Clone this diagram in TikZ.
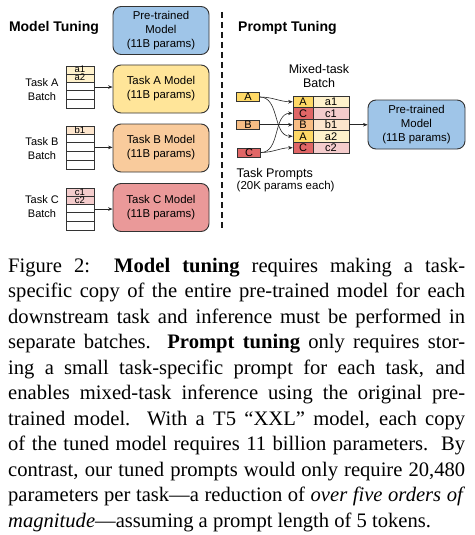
\documentclass[tikz,border=0pt]{standalone}
\usepackage{fontspec}
\setmainfont{Liberation Serif}
\newfontfamily\arialf{Liberation Sans}
\usetikzlibrary{arrows.meta,fit,calc}
\definecolor{mblue}{HTML}{9FC5E8}
\definecolor{myellow}{HTML}{FFE599}
\definecolor{morange}{HTML}{F9CB9C}
\definecolor{mred}{HTML}{EA9999}
\definecolor{lyellow}{HTML}{FFF2CC}
\definecolor{lorange}{HTML}{FCE5CD}
\definecolor{lred}{HTML}{F4CCCC}
\definecolor{dyellow}{HTML}{FFD966}
\definecolor{dorange}{HTML}{F8BD84}
\definecolor{dred}{HTML}{E06666}
\definecolor{edge}{HTML}{333333}
\begin{document}
\begin{tikzpicture}[x=1pt,y=-1pt,
  model/.style={draw=edge, line width=0.9pt, rounded corners=8pt, minimum width=96pt, minimum height=48pt, align=center, inner sep=0pt, font=\arialf\fontsize{11.4}{14}\selectfont},
  bcell/.style={draw=edge, line width=0.6pt, minimum width=28pt, inner sep=0pt, font=\arialf\fontsize{9.5}{9.5}\selectfont, text height=6.5pt, text depth=0.5pt},
  lrow/.style={bcell, minimum height=8pt},
  erow/.style={bcell, minimum height=8.7pt},
  mcell/.style={draw=edge, line width=0.6pt, minimum height=11.5pt, inner sep=0pt, font=\arialf\fontsize{11}{11}\selectfont, text height=8pt, text depth=0.5pt},
  ml/.style={mcell, minimum width=20pt},
  mr/.style={mcell, minimum width=36pt},
  pbox/.style={draw=edge, line width=0.6pt, minimum width=23pt, minimum height=9pt, inner sep=0pt, font=\arialf\fontsize{11}{11}\selectfont, text height=8pt, text depth=0.5pt},
  blabel/.style={align=center, inner sep=0pt, font=\arialf\fontsize{11}{14}\selectfont},
  ttl/.style={inner sep=0pt, font=\arialf\bfseries\fontsize{14}{16}\selectfont},
  arr/.style={-{Stealth[length=4.5pt,width=3.6pt]}, line width=0.6pt, draw=black!85},
]
\useasboundingbox (0,0) rectangle (474,535);
\fill[white] (0,0) rectangle (474,535);

% ---------- Model tuning ----------
\node[ttl] (tmt) at (54,28) {Model Tuning};
\node[model, fill=mblue] (mPT) at (161,30.5) {Pre-trained\\Model\\(11B params)};
\node[model, fill=myellow] (mA) at (161,89) {Task A Model\\(11B params)};
\node[model, fill=morange] (mB) at (161,148) {Task B Model\\(11B params)};
\node[model, fill=mred] (mC) at (161,207.5) {Task C Model\\(11B params)};

% table A
\node[lrow, fill=lyellow] (tA1) at (80,70) {a1};
\node[lrow, fill=lyellow] (tA2) at (80,78) {a2};
\node[erow] (tA3) at (80,86.35) {};
\node[erow] (tA4) at (80,95.05) {};
\node[erow] (tA5) at (80,103.75) {};
\node[fit=(tA1)(tA5), inner sep=0pt] (bA) {};
\node[blabel] (lA) at (42,89.5) {Task A\\Batch};
\draw[arr] (bA.east) -- (bA.east -| mA.west);

% table B
\node[lrow, fill=lorange] (tB1) at (80,130) {b1};
\node[erow] (tB2) at (80,138.35) {};
\node[erow] (tB3) at (80,147.05) {};
\node[erow] (tB4) at (80,155.75) {};
\node[erow] (tB5) at (80,164.45) {};
\node[fit=(tB1)(tB5), inner sep=0pt] (bB) {};
\node[blabel] (lB) at (42,148.5) {Task B\\Batch};
\draw[arr] (bB.east) -- (bB.east -| mB.west);

% table C
\node[lrow, fill=lred] (tC1) at (80,192) {c1};
\node[lrow, fill=lred] (tC2) at (80,200) {c2};
\node[erow] (tC3) at (80,208.35) {};
\node[erow] (tC4) at (80,217.05) {};
\node[erow] (tC5) at (80,225.75) {};
\node[fit=(tC1)(tC5), inner sep=0pt] (bC) {};
\node[blabel] (lC) at (42,207) {Task C\\Batch};
\draw[arr] (bC.east) -- (bC.east -| mC.west);

% divider
\draw[line width=2pt, dash pattern=on 6pt off 4pt, draw=black!90] (222,12) -- (222,231);

% ---------- Prompt tuning ----------
\node[ttl, anchor=west] (tpt) at (238,28) {Prompt Tuning};
\node[align=center, inner sep=0pt, font=\arialf\fontsize{12.5}{14}\selectfont] (mtb) at (319,76) {Mixed-task\\Batch};

\node[pbox, fill=dyellow] (pA) at (248,97) {A};
\node[pbox, fill=dorange] (pB) at (248,124.75) {B};
\node[pbox, fill=dred] (pC) at (249,152.5) {C};

\node[ml, fill=dyellow] (m1l) at (303,101.75) {A};
\node[mr, fill=lyellow] (m1r) at (331,101.75) {a1};
\node[ml, fill=dred] (m2l) at (303,113.25) {C};
\node[mr, fill=lred] (m2r) at (331,113.25) {c1};
\node[ml, fill=dorange] (m3l) at (303,124.75) {B};
\node[mr, fill=lorange] (m3r) at (331,124.75) {b1};
\node[ml, fill=dyellow] (m4l) at (303,136.25) {A};
\node[mr, fill=lyellow] (m4r) at (331,136.25) {a2};
\node[ml, fill=dred] (m5l) at (303,147.75) {C};
\node[mr, fill=lred] (m5r) at (331,147.75) {c2};

\node[model, minimum width=97pt, minimum height=49pt, fill=mblue] (mPT2) at (416.5,124.5) {Pre-trained\\Model\\(11B params)};

\draw[arr] (pA.east) to[out=0,in=180] (m1l.west);
\draw[arr] (pA.east) to[out=0,in=180] (m4l.west);
\draw[arr] (pB.east) -- (m3l.west);
\draw[arr] (pC.east) to[out=0,in=180] (m2l.west);
\draw[arr] (pC.east) to[out=0,in=180] (m5l.west);
\draw[arr] (m3r.east) -- (m3r.east -| mPT2.west);

\node[anchor=west, align=left, inner sep=0pt] (tpl) at (236.5,180) {{\arialf\fontsize{12.6}{14}\selectfont Task Prompts}\\{\arialf\fontsize{11.5}{14}\selectfont (20K params each)}};

% ---------- Caption ----------
\node[anchor=north west, inner sep=0pt, text width=457pt, align=justify, font=\fontsize{20.6}{25.5}\selectfont] (cap) at (8,254.2) {\strut Figure 2:\ \ \textbf{Model tuning} requires making a task-\linebreak
specific copy of the entire pre-trained model for each\linebreak
downstream task and inference must be performed in\linebreak
separate batches.\ \ \textbf{Prompt tuning} only requires stor-\linebreak
ing a small task-specific prompt for each task, and\linebreak
enables mixed-task inference using the original pre-\linebreak
trained model.\ \ With a T5 “XXL” model, each copy\linebreak
of the tuned model requires 11 billion parameters.\ \ By\linebreak
contrast, our tuned prompts would only require 20,480\linebreak
parameters per task—a reduction of \textit{over five orders of}\linebreak
\textit{magnitude}—assuming a prompt length of 5 tokens.};
\end{tikzpicture}
\end{document}
